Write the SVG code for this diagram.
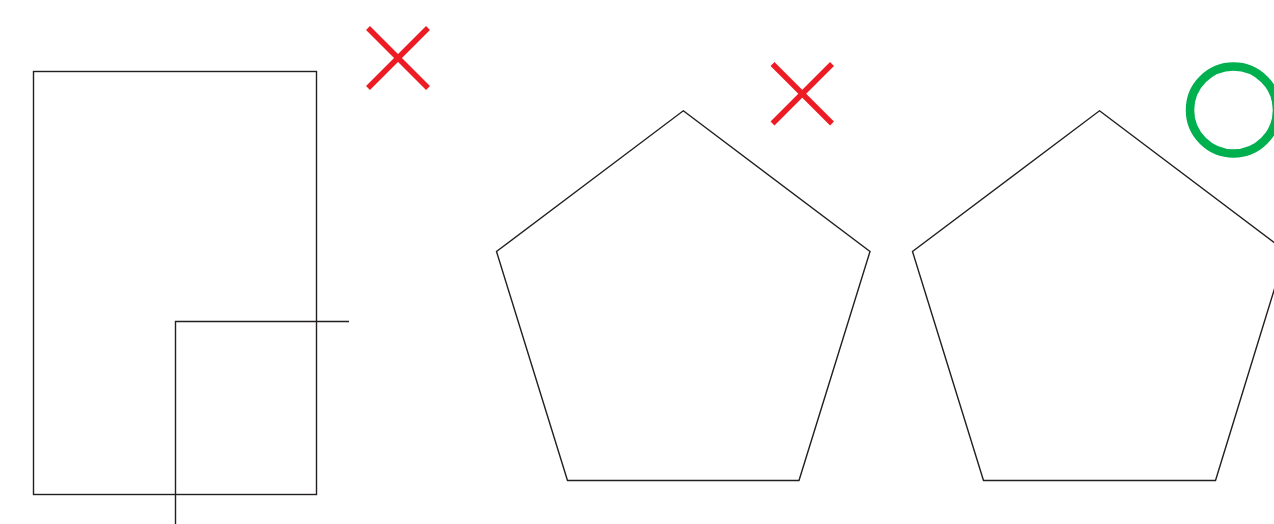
<svg xmlns="http://www.w3.org/2000/svg" width="1274" height="524" viewBox="0 0 1274 524">
<style>
.shape{fill:none;stroke:#231f20;stroke-width:1.4}
.cross{stroke:#ed1c24;stroke-width:5.5;fill:none}
.ok{fill:none;stroke:#00b04f;stroke-width:8.5}
</style>
<rect width="1274" height="524" fill="#ffffff"/>
<g id="rectangle-node">
<rect class="shape" x="33.5" y="71.5" width="283" height="423"/>
</g>
<g id="corner-lines">
<polyline class="shape" points="349,321.5 175.5,321.5 175.5,524"/>
</g>
<g id="cross-1">
<line class="cross" x1="368" y1="28" x2="428" y2="88"/>
<line class="cross" x1="428" y1="28" x2="368" y2="88"/>
</g>
<g id="pentagon-1">
<polygon class="shape" points="683.3,110.8 870,251.5 799,480.5 567.5,480.5 496.5,251.5"/>
</g>
<g id="cross-2">
<line class="cross" x1="772.5" y1="64" x2="832" y2="123.5"/>
<line class="cross" x1="832" y1="64" x2="772.5" y2="123.5"/>
</g>
<g id="pentagon-2">
<polygon class="shape" points="1099.5,110.8 1286,251.5 1215.5,480.5 983.5,480.5 912.5,251.5"/>
</g>
<g id="circle-ok">
<circle class="ok" cx="1233.5" cy="110" r="43.5"/>
</g>
</svg>
